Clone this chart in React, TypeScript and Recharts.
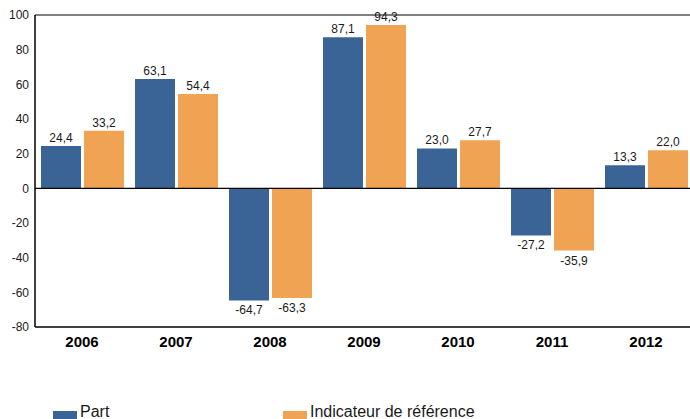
import {
  BarChart,
  Bar,
  XAxis,
  YAxis,
  ReferenceLine,
  LabelList,
} from "recharts";

const years = ["2006", "2007", "2008", "2009", "2010", "2011", "2012"];
const partValues = [24.4, 63.1, -64.7, 87.1, 23.0, -27.2, 13.3];
const indicateurValues = [33.2, 54.4, -63.3, 94.3, 27.7, -35.9, 22.0];
const yTicks = [-80, -60, -40, -20, 0, 20, 40, 60, 80, 100];
const seriesNames = ["Part", "Indicateur de référence"];
const seriesColors = ["#3A6496", "#F0A352"];

const chartData = years.map((year, i) => ({
  year,
  part: partValues[i],
  indicateur: indicateurValues[i],
}));

const FONT = "'Liberation Sans', Arial, sans-serif";

const fmt = (v: number) => v.toFixed(1).replace(".", ",");

function ValueLabel(props: any) {
  const { x, y, width, height, value } = props;
  const top = Math.min(y, y + height);
  const bottom = Math.max(y, y + height);
  const cx = x + width / 2;
  const ty = value >= 0 ? top - 4 : bottom + 14;
  return (
    <text x={cx} y={ty} textAnchor="middle" fontSize={12} fill="#1a1a1a" fontFamily={FONT}>
      {fmt(value)}
    </text>
  );
}

function ChartLegend() {
  const spots = [53, 283];
  return (
    <>
      {seriesNames.map((name, i) => (
        <div key={name}>
          <span
            style={{
              position: "absolute",
              left: spots[i],
              top: 411,
              width: 24,
              height: 10,
              background: seriesColors[i],
            }}
          />
          <span
            style={{
              position: "absolute",
              left: spots[i] + 27,
              top: 403,
              fontFamily: FONT,
              fontSize: 16,
              lineHeight: "18px",
              color: "#1a1a1a",
              whiteSpace: "nowrap",
            }}
          >
            {name}
          </span>
        </div>
      ))}
    </>
  );
}

export default function App() {
  return (
    <div style={{ position: "relative", width: 690, height: 419, overflow: "hidden", background: "#fff" }}>
      <style>{`body { margin: 0; overflow: hidden; }`}</style>
      <BarChart
        width={700}
        height={419}
        data={chartData}
        margin={{ top: 15, right: 7, left: 0, bottom: 62 }}
        barCategoryGap={6}
        barGap={3}
      >
        <XAxis
          dataKey="year"
          axisLine={{ stroke: "#000", strokeWidth: 1.5 }}
          tickLine={false}
          tickSize={0}
          tickMargin={9}
          height={30}
          tick={{ fontSize: 15, fontWeight: "bold", fill: "#000", fontFamily: FONT }}
        />
        <YAxis
          width={35}
          domain={[-80, 100]}
          ticks={yTicks}
          interval={0}
          axisLine={{ stroke: "#000", strokeWidth: 1.5 }}
          tickLine={false}
          tickSize={0}
          tickMargin={6}
          tick={{ fontSize: 12, fill: "#1a1a1a", fontFamily: FONT }}
        />
        <ReferenceLine y={100} stroke="#000" strokeWidth={1.2} />
        <ReferenceLine y={0} stroke="#000" strokeWidth={1.2} />
        <Bar dataKey="part" name={seriesNames[0]} fill={seriesColors[0]} isAnimationActive={false}>
          <LabelList dataKey="part" content={<ValueLabel />} />
        </Bar>
        <Bar dataKey="indicateur" name={seriesNames[1]} fill={seriesColors[1]} isAnimationActive={false}>
          <LabelList dataKey="indicateur" content={<ValueLabel />} />
        </Bar>
      </BarChart>
      <ChartLegend />
    </div>
  );
}
